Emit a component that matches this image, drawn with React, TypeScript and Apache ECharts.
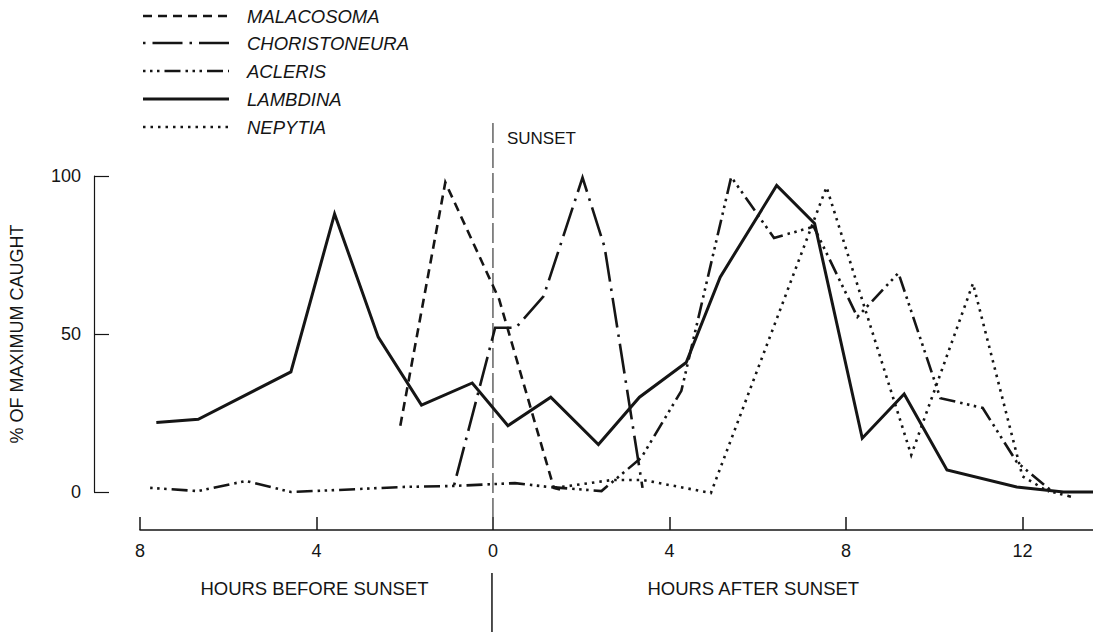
import React, { useEffect, useRef } from "react";
import * as echarts from "echarts";

// Hours relative to sunset (negative = before sunset) and % of maximum caught
const malacosomaHours = [-2.1, -1.08, 0.14, 1.38, 1.6];
const malacosomaValues = [21, 98, 61, 1.3, 0.5];

const choristoneuraHours = [-0.88, 0.05, 0.52, 1.15, 2.03, 2.53, 3.39];
const choristoneuraValues = [2.2, 52, 52, 62, 99.5, 77.5, 1.3];

const aclerisHours = [-7.77, -6.68, -5.6, -4.58, -3.57, -2.05, -0.93, 0.02, 0.5, 1.26, 2.46, 3.36, 4.27, 5.4, 6.37, 7.27, 8.26, 9.19, 10.14, 11.1, 11.87, 12.69, 13.1];
const aclerisValues = [1.3, 0.3, 3.5, 0, 0.6, 1.6, 1.9, 2.5, 2.8, 1.6, 0.3, 10.8, 32, 99.7, 80.4, 84, 55.4, 69.3, 29.7, 26.6, 9.5, 0, -1.5];

const lambdinaHours = [-7.63, -6.68, -4.58, -3.59, -2.6, -1.62, -0.47, 0.34, 1.31, 2.39, 3.32, 4.38, 5.15, 6.43, 7.29, 8.37, 9.32, 10.29, 11.87, 12.93, 13.6];
const lambdinaValues = [22, 23, 38, 88, 49, 27.5, 34.5, 21, 30, 15, 30, 41, 68, 97, 85, 17, 31, 7, 1.6, 0, 0];

const nepytiaHours = [1.4, 2.7, 3.4, 4.94, 7.56, 9.48, 10.88, 12.0, 12.6];
const nepytiaValues = [1.3, 3.8, 3.8, -0.3, 96.5, 11.7, 66, 5, 0];

const xTicks = [-8, -4, 0, 4, 8, 12];
const yTicks = [0, 50, 100];

const speciesNames = ["MALACOSOMA", "CHORISTONEURA", "ACLERIS", "LAMBDINA", "NEPYTIA"];

const FONT = '"Liberation Sans", Arial, sans-serif';
const INK = "#151515";

const styles: Record<string, { width: number; dash: number[] | "solid"; cap: "butt" | "round" }> = {
  MALACOSOMA: { width: 2.6, dash: [9, 6], cap: "butt" },
  CHORISTONEURA: { width: 2.6, dash: [2.5, 7, 30, 7], cap: "butt" },
  ACLERIS: { width: 2.6, dash: [2.5, 4.5, 2.5, 4.5, 2.5, 5, 16, 5], cap: "butt" },
  LAMBDINA: { width: 3, dash: "solid", cap: "butt" },
  NEPYTIA: { width: 2.6, dash: [2.5, 5], cap: "butt" },
};

function zip(h: number[], v: number[]) {
  return h.map((x, i) => [x, v[i]]);
}

export default function App() {
  const ref = useRef<HTMLDivElement>(null);
  useEffect(() => {
    document.body.style.margin = "0";
    const chart = echarts.init(ref.current!, null, { renderer: "svg" });
    const dataSets = [
      zip(malacosomaHours, malacosomaValues),
      zip(choristoneuraHours, choristoneuraValues),
      zip(aclerisHours, aclerisValues),
      zip(lambdinaHours, lambdinaValues),
      zip(nepytiaHours, nepytiaValues),
    ];
    chart.setOption({
      animation: false,
      backgroundColor: "#ffffff",
      grid: { left: 136, right: 0, top: 176, bottom: 140, containLabel: false },
      xAxis: {
        type: "value",
        min: -8,
        max: 13.6,
        interval: 4,
        offset: 38,
        splitLine: { show: false },
        axisLine: { show: true, onZero: false, lineStyle: { color: INK, width: 1.5 } },
        axisTick: { show: true, inside: true, length: 13, customValues: xTicks, lineStyle: { color: INK, width: 1.5 } },
        axisLabel: {
          customValues: xTicks,
          margin: 12,
          color: INK,
          fontSize: 18,
          fontFamily: FONT,
          formatter: (v: number) => String(Math.abs(v)),
        },
      },
      yAxis: {
        type: "value",
        min: 0,
        max: 100,
        interval: 50,
        offset: 46,
        name: "% OF MAXIMUM CAUGHT",
        nameLocation: "middle",
        nameRotate: 90,
        nameGap: 68,
        nameTextStyle: { color: INK, fontSize: 18, fontFamily: FONT },
        splitLine: { show: false },
        axisLine: { show: true, onZero: false, lineStyle: { color: INK, width: 1.2 } },
        axisTick: { show: true, inside: true, length: 15, customValues: yTicks, lineStyle: { color: INK, width: 1.2 } },
        axisLabel: { customValues: yTicks, margin: 13, color: INK, fontSize: 18, fontFamily: FONT },
      },
      series: speciesNames.map((name, i) => ({
        name,
        type: "line",
        data: dataSets[i],
        symbol: "none",
        clip: false,
        lineStyle: {
          color: INK,
          width: styles[name].width,
          type: styles[name].dash,
          cap: styles[name].cap,
          join: "miter",
        },
      })),
    });

    const sx = chart.convertToPixel({ xAxisIndex: 0 }, 0) as number;
    const bx = chart.convertToPixel({ xAxisIndex: 0 }, -4) as number;
    const ax = chart.convertToPixel({ xAxisIndex: 0 }, 5.9) as number;

    const legendRows = [16, 43, 71, 99, 127];
    const graphics: any[] = [];
    speciesNames.forEach((name, i) => {
      const st = styles[name];
      graphics.push({
        type: "line",
        shape: { x1: 143, y1: legendRows[i], x2: 229, y2: legendRows[i] },
        style: {
          stroke: INK,
          lineWidth: st.width,
          lineDash: st.dash === "solid" ? null : st.dash,
          lineCap: st.cap,
        },
        silent: true,
      });
      graphics.push({
        type: "text",
        style: {
          text: name,
          x: 247,
          y: legendRows[i],
          fill: INK,
          font: `italic 18.5px ${FONT}`,
          align: "left",
          verticalAlign: "middle",
          textAlign: "left",
          textVerticalAlign: "middle",
        },
        silent: true,
      });
    });
    // sunset dashed line
    graphics.push({
      type: "line",
      shape: { x1: sx, y1: 123, x2: sx, y2: 517 },
      style: { stroke: INK, lineWidth: 1, lineDash: [20, 5] },
      silent: true,
    });
    graphics.push({
      type: "text",
      style: {
        text: "SUNSET",
        x: sx + 14,
        y: 138,
        fill: INK,
        font: `17px ${FONT}`,
        align: "left",
        verticalAlign: "middle",
        textAlign: "left",
        textVerticalAlign: "middle",
      },
      silent: true,
    });
    // divider under axis
    graphics.push({
      type: "line",
      shape: { x1: sx - 1, y1: 573, x2: sx - 1, y2: 632 },
      style: { stroke: INK, lineWidth: 1.5 },
      silent: true,
    });
    graphics.push({
      type: "text",
      style: {
        text: "HOURS BEFORE SUNSET",
        x: bx - 2,
        y: 588,
        fill: INK,
        font: `18.5px ${FONT}`,
        align: "center",
        verticalAlign: "middle",
        textAlign: "center",
        textVerticalAlign: "middle",
      },
      silent: true,
    });
    graphics.push({
      type: "text",
      style: {
        text: "HOURS AFTER SUNSET",
        x: ax,
        y: 588,
        fill: INK,
        font: `18.5px ${FONT}`,
        align: "center",
        verticalAlign: "middle",
        textAlign: "center",
        textVerticalAlign: "middle",
      },
      silent: true,
    });
    chart.setOption({ graphic: graphics });

    return () => chart.dispose();
  }, []);
  return (
    <div
      ref={ref}
      style={{ position: "fixed", left: 0, top: 0, width: 1093, height: 632, background: "#fff" }}
    />
  );
}
